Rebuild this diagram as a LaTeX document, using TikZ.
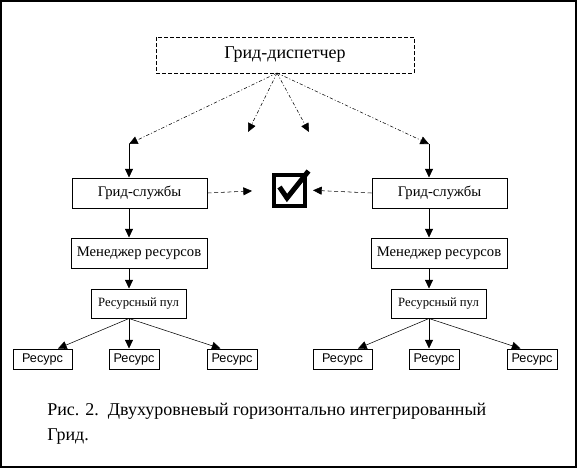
\documentclass[tikz,border=0pt]{standalone}
\usepackage{fontspec}
\setmainfont{Liberation Serif}
\newfontfamily\resserif{Liberation Serif}
\newfontfamily\ressans{Liberation Sans}
\usetikzlibrary{arrows.meta, calc}

\begin{document}
\begin{tikzpicture}[x=0.75pt, y=-0.75pt, >={Triangle[length=6.5pt, width=6pt]},
    box/.style={draw, line width=0.75pt, inner sep=0pt},
    ddash/.style={dash pattern=on 2.5pt off 1.5pt on 0.75pt off 1.5pt},
    sdash/.style={dash pattern=on 3pt off 2pt}]
  \useasboundingbox (0,0) rectangle (577,469);
  \draw[line width=1.5pt] (1,1) rectangle (576,467);

  % Dispatcher on top
  \node[box, dash pattern=on 3pt off 1.5pt, minimum width=193.5pt, minimum height=27pt,
        font=\resserif\fontsize{13.5}{15}\selectfont] (disp) at (285,55) {Грид-диспетчер};
  \coordinate (hub) at (277,73);
  \coordinate (midL) at (248,132);
  \coordinate (midR) at (309,132);

  % Check box
  \node[draw, line width=3pt, minimum size=23.25pt, inner sep=0pt] (chk) at (289.5,190) {};
  \draw[line width=3.75pt, line join=miter] ($(chk.center)+(-10,-3)$) -- ($(chk.center)+(-2.5,8)$)
    -- ($(chk.center)+(19,-19)$);

  % Two sides
  \foreach \s/\dx in {L/0, R/300} {
    \coordinate (top\s) at (129+\dx,144);
    \node[box, minimum width=101.25pt, minimum height=22.5pt,
          font=\resserif\fontsize{11}{12}\selectfont] (gs\s) at (139.5+\dx,193) {Грид-службы};
    \node[box, minimum width=102pt, minimum height=22.5pt,
          font=\resserif\fontsize{11}{12}\selectfont] (mgr\s) at (139+\dx,253) {Менеджер ресурсов};
    \node[box, minimum width=71.25pt, minimum height=21.75pt,
          font=\resserif\fontsize{9.5}{11}\selectfont] (pool\s) at (138.5+\dx,303.5) {Ресурсный пул};
    \foreach \j/\x/\w in {1/42.5/44.25pt, 2/134/37.5pt, 3/232/37.5pt} {
      \node[box, minimum width=\w, minimum height=15pt,
            font=\ressans\fontsize{9.5}{11}\selectfont] (res\s\j) at (\x+\dx,359) {Ресурс};
    }
    \draw[->, ddash] (hub) -- (top\s);
    \draw[->] (top\s) -- (gs\s.north -| top\s);
    \draw[->] (gs\s.south -| top\s) -- (mgr\s.north -| top\s);
    \draw[->] (mgr\s.south -| top\s) -- (pool\s.north -| top\s);
    \draw[->] (pool\s.south -| top\s) -- ($(res\s1.north)+(15.5,0)$);
    \draw[->] (pool\s.south -| top\s) -- (res\s2.north -| top\s);
    \draw[->] (pool\s.south -| top\s) -- ($(res\s3.north)+(-11.5,0)$);
  }
  \draw[->, ddash] (hub) -- (midL);
  \draw[->, ddash] (hub) -- (midR);

  % Services to check box
  \draw[->, sdash, shorten >=15pt] (gsL.east) -- (chk.west);
  \draw[->, sdash, shorten >=4.5pt] (gsR.west) -- (chk.east);

  % Caption
  \node[anchor=base west, align=left, inner sep=0pt,
        font=\resserif\fontsize{13.5}{18.75}\selectfont] (cap) at (47,440)
    {Рис. 2.\ \ Двухуровневый горизонтально интегрированный\\Грид.};
\end{tikzpicture}
\end{document}
